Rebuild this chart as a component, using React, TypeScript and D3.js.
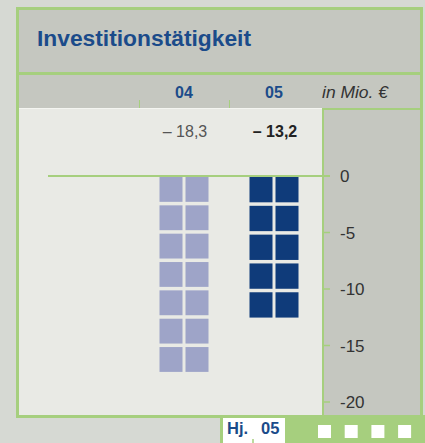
import React from "react";
import * as d3 from "d3";

const categories = ["04", "05"];
const values = [-18.3, -13.2];
const valueLabels = ["– 18,3", "– 13,2"];
const yTicks = [0, -5, -10, -15, -20];
const title = "Investitionstätigkeit";
const unitLabel = "in Mio. €";
const footerLabel = ["Hj.", "05"];

const W = 425;
const H = 443;
const GREEN = "#a6cf7e";
const OUTER = "#d6d9d3";
const HEAD = "#c5c7c0";
const PLOT = "#e9eae5";
const BLUE = "#1b4b8a";
const COLORS = ["#9ea4c8", "#0f3b7a"];
const FONT = "'Liberation Sans', Arial, sans-serif";

export default function App() {
  const x = d3.scaleBand<string>().domain(categories).range([139, 319]).padding(0);
  const y = d3.scaleLinear().domain([0, -20]).range([176, 402]);
  const yPict = d3.scaleLinear().domain([0, -20]).range([177, 390]);

  const colW = 23;
  const colGap = 3;
  const rowGap = 3.5;

  const blocks: { x: number; y: number; w: number; h: number; c: string }[] = [];
  categories.forEach((cat, i) => {
    const v = values[i];
    const n = Math.round(Math.abs(v) / 2.5);
    const top = yPict(0);
    const len = yPict(v) - top;
    const pitch = (len + rowGap) / n;
    const cx = (x(cat) as number) + x.bandwidth() / 2;
    for (let r = 0; r < n; r++) {
      for (let c = 0; c < 2; c++) {
        blocks.push({
          x: c === 0 ? cx - colGap / 2 - colW : cx + colGap / 2,
          y: top + r * pitch,
          w: colW,
          h: pitch - rowGap,
          c: COLORS[i],
        });
      }
    }
  });

  return (
    <svg width={W} height={H} style={{ position: "absolute", left: 0, top: 0, display: "block" }}>
      <rect x={0} y={0} width={W} height={H} fill={OUTER} />
      {/* frame */}
      <rect x={16} y={7} width={407} height={411} fill={GREEN} />
      <rect x={19} y={10} width={401} height={62} fill={HEAD} />
      <rect x={19} y={75} width={401} height={33} fill={HEAD} />
      <rect x={19} y={108} width={303} height={307} fill={PLOT} />
      <line x1={19} x2={322} y1={108.5} y2={108.5} stroke="#f4f5f1" strokeWidth={1} />
      <rect x={324} y={110} width={96} height={305} fill={HEAD} />

      {/* title */}
      <text
        x={37}
        y={46}
        fill={BLUE}
        fontFamily={FONT}
        fontWeight="bold"
        fontSize={22}
        textLength={214}
        lengthAdjust="spacingAndGlyphs"
      >
        {title}
      </text>

      {/* category header */}
      {categories.map((c) => (
        <text
          key={c}
          x={(x(c) as number) + x.bandwidth() / 2}
          y={98}
          textAnchor="middle"
          fill={BLUE}
          fontFamily={FONT}
          fontWeight="bold"
          fontSize={16}
        >
          {c}
        </text>
      ))}
      {categories.map((c) => (
        <line key={"t" + c} x1={(x(c) as number) + 0.5} x2={(x(c) as number) + 0.5} y1={100} y2={108} stroke={GREEN} strokeWidth={1} />
      ))}
      <text
        x={322}
        y={98}
        fill="#333"
        fontFamily={FONT}
        fontStyle="italic"
        fontSize={16.5}
        textLength={66}
        lengthAdjust="spacingAndGlyphs"
      >
        {unitLabel}
      </text>

      {/* value labels */}
      {categories.map((c, i) => (
        <text
          key={"v" + c}
          x={(x(c) as number) + x.bandwidth() / 2 + 1}
          y={137}
          textAnchor="middle"
          fill={i === 1 ? "#222" : "#555"}
          fontWeight={i === 1 ? "bold" : "normal"}
          fontFamily={FONT}
          fontSize={16}
        >
          {valueLabels[i]}
        </text>
      ))}

      {/* bars as pictograph blocks */}
      {blocks.map((b, i) => (
        <rect key={i} x={b.x} y={b.y} width={b.w} height={b.h} fill={b.c} />
      ))}

      {/* zero line */}
      <line x1={48} x2={330} y1={y(0)} y2={y(0)} stroke={GREEN} strokeWidth={2} />

      {/* y axis */}
      {yTicks.map((t) => (
        <g key={t}>
          <line x1={324} x2={330} y1={y(t)} y2={y(t)} stroke={GREEN} strokeWidth={1.5} />
          <text x={340} y={y(t) + 6} fill="#333" fontFamily={FONT} fontSize={17}>
            {t === 0 ? "0" : "-" + Math.abs(t)}
          </text>
        </g>
      ))}

      {/* footer */}
      <rect x={220} y={415} width={205} height={28} fill={GREEN} />
      <rect x={223} y={418} width={62} height={25} fill="#ffffff" />
      <text x={227} y={434} fill={BLUE} fontFamily={FONT} fontWeight="bold" fontSize={16.5}>
        {footerLabel[0]}
      </text>
      <text x={261} y={434} fill={BLUE} fontFamily={FONT} fontWeight="bold" fontSize={16.5}>
        {footerLabel[1]}
      </text>
      <line x1={253} x2={253} y1={439} y2={443} stroke={GREEN} strokeWidth={1.5} />
      {[0, 1, 2, 3].map((k) => (
        <rect key={"sq" + k} x={318 + k * 26.7} y={425} width={13} height={13} fill="#ffffff" />
      ))}
    </svg>
  );
}
